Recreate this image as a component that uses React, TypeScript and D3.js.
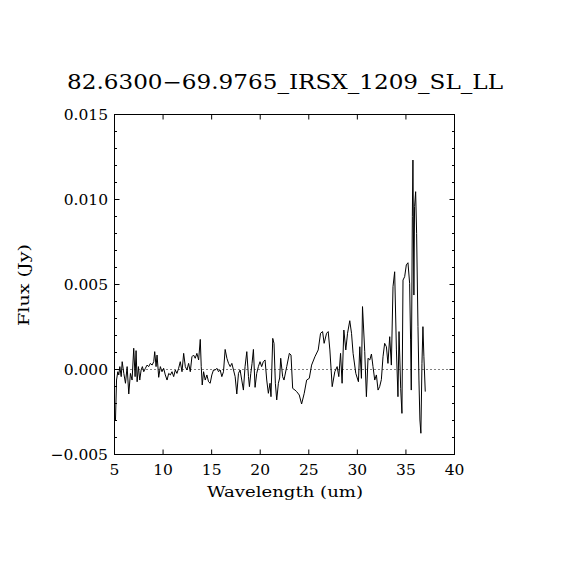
import React from "react";
import * as d3 from "d3";

const title = "82.6300\u221269.9765_IRSX_1209_SL_LL";
const xLabel = "Wavelength (um)";
const yLabel = "Flux (Jy)";
const xTicks = [5, 10, 15, 20, 25, 30, 35, 40];
const yTicks = [-0.005, 0, 0.005, 0.01, 0.015];
const yTickLabels = ["\u22120.005", "0.000", "0.005", "0.010", "0.015"];

const wavelength = [
  5.10, 5.21, 5.34, 5.44, 5.55, 5.69, 5.79, 5.96, 6.13, 6.30, 6.47, 6.64, 6.81, 6.98, 7.12, 7.22, 7.33, 7.46, 7.60, 7.74,
  7.87, 8.01, 8.18, 8.35, 8.52, 8.69, 8.87, 9.04, 9.14, 9.28, 9.38, 9.55, 9.72, 9.89, 10.06, 10.23, 10.41, 10.58, 10.75, 10.92,
  11.09, 11.26, 11.43, 11.60, 11.77, 11.95, 12.12, 12.29, 12.46, 12.63, 12.80, 12.97, 13.14, 13.31, 13.48, 13.66, 13.83, 13.93, 14.03, 14.17,
  14.34, 14.51, 14.68, 14.85, 15.02, 15.19, 15.37, 15.54, 15.71, 15.88, 16.05, 16.22, 16.39, 16.57, 16.74, 16.91, 17.08, 17.25, 17.42, 17.59,
  17.76, 17.93, 18.10, 18.27, 18.44, 18.62, 18.79, 18.89, 19.03, 19.16, 19.30, 19.47, 19.64, 19.81, 19.98, 20.15, 20.32, 20.50, 20.67, 20.84,
  21.01, 21.11, 21.29, 21.42, 21.56, 21.70, 21.87, 22.00, 22.11, 22.31, 22.45, 22.73, 23.00, 23.17, 23.34, 23.58, 23.75, 24.02, 24.26, 24.53,
  24.78, 25.05, 25.29, 25.63, 25.97, 26.21, 26.42, 26.58, 26.83, 27.00, 27.17, 27.41, 27.68, 27.92, 28.09, 28.27, 28.43, 28.61, 28.81, 28.99,
  29.22, 29.40, 29.56, 29.84, 30.11, 30.25, 30.42, 30.53, 30.76, 30.93, 31.10, 31.28, 31.45, 31.61, 31.79, 31.96, 32.13, 32.30, 32.47, 32.64,
  32.81, 32.99, 33.15, 33.33, 33.50, 33.67, 33.84, 34.02, 34.18, 34.29, 34.46, 34.59, 34.70, 34.87, 35.04, 35.21, 35.38, 35.48, 35.55, 35.66,
  35.72, 35.82, 35.89, 36.00, 36.10, 36.24, 36.34, 36.44, 36.54, 36.65, 36.75, 36.85, 36.99,
];

const flux = [
  -0.00297, -0.00062, -0.00013, -0.00032, 0.00017, -0.00042, 0.00046, -0.00023, -0.00081, 0.00017, -0.00144, -0.00023, -0.00062, 0.00125, -0.00042, 0.00111, -0.00072, 0.00017, -0.00062, -0.00003,
  0.00017, -0.00013, 0.00007, 0.00026, 0.00017, 0.00036, 0.00026, 0.00046, 0.00105, 0.00017, 0.00085, -0.00046, 0.00017, -0.00013, 0.00007, -0.00032, -0.00062, -0.00023, -0.00032, -0.00013,
  -0.00042, -0.00003, -0.00023, 0.00007, 0.00046, -0.00013, 0.00095, 0.00017, -0.00003, 0.00036, -0.00013, 0.00075, 0.00085, 0.00066, 0.00095, 0.00056, 0.00177, 0.00017, -0.00091, -0.00013,
  -0.00062, -0.00032, -0.00072, -0.00081, -0.00032, -0.00003, -0.00003, 0.00007, -0.00013, -0.00003, -0.00042, -0.00013, 0.00118, 0.00066, 0.00036, 0.00017, 0.00036, -0.00003, -0.00042, -0.00144,
  -0.00023, -0.00003, -0.00062, -0.00121, 0.00017, 0.00105, -0.00042, -0.00101, -0.00023, 0.00036, 0.00118, -0.00105, -0.00023, 0.00017, 0.00046, 0.00017, 0.00046, 0.00056, -0.00062, -0.00140,
  -0.00081, -0.00160, 0.00183, 0.00154, -0.00081, -0.00179, -0.00081, -0.00050, 0.00066, -0.00042, -0.00062, 0.00017, 0.00095, 0.00085, -0.00111, -0.00121, -0.00130, -0.00150, -0.00203, -0.00140,
  -0.00062, -0.00052, 0.00026, 0.00075, 0.00115, 0.00213, 0.00223, 0.00154, 0.00213, 0.00223, 0.00115, -0.00101, -0.00013, 0.00017, -0.00042, 0.00095, -0.00081, 0.00232, 0.00115, 0.00213,
  0.00287, 0.00213, 0.00095, -0.00023, -0.00072, 0.00134, -0.00052, 0.00370, 0.00105, -0.00160, 0.00066, 0.00056, 0.00091, 0.00017, -0.00062, -0.00032, -0.00121, -0.00100, -0.00060, 0.00075,
  0.00154, 0.00134, 0.00036, 0.00193, 0.00026, 0.00487, 0.00575, 0.00115, -0.00160, 0.00223, -0.00111, -0.00258, 0.00526, 0.00546, 0.00615, 0.00628, 0.00507, 0.00174, -0.00121, 0.00899,
  0.01232, 0.00438, 0.00958, 0.01046, 0.00801, 0.00252, -0.00062, -0.00297, -0.00375, 0.00036, 0.00252, 0.00075, -0.00130,
];

const W = 570;
const H = 570;
const left = 114.5;
const right = 454.5;
const top = 114.5;
const bottom = 454.5;
const FONT = "'DejaVu Serif', 'Liberation Serif', serif";

export default function App() {
  const x = d3.scaleLinear().domain([5, 40]).range([left, right]);
  const y = d3.scaleLinear().domain([-0.005, 0.015]).range([bottom, top]);
  const pts: [number, number][] = wavelength.map((w, i) => [w, flux[i]]);
  const line = d3
    .line<[number, number]>()
    .x((d) => x(d[0]))
    .y((d) => y(d[1]));
  const minorY = d3.range(-0.005, 0.0151, 0.001).map((v) => Math.round(v * 1e4) / 1e4);

  return (
    <svg
      width={W}
      height={H}
      style={{ position: "absolute", left: 0, top: 0, background: "#fff" }}
      fontFamily={FONT}
    >
      <rect x={0} y={0} width={W} height={H} fill="#fff" />
      <text x={285} y={89} fontSize={20} textAnchor="middle" textLength={436} lengthAdjust="spacingAndGlyphs">
        {title}
      </text>
      {/* zero line */}
      <line x1={left} x2={right} y1={y(0)} y2={y(0)} stroke="#000" strokeWidth={1} strokeDasharray="1,3" />
      {/* data */}
      <path d={line(pts) || ""} fill="none" stroke="#000" strokeWidth={1} strokeLinejoin="miter" />
      {/* frame */}
      <rect x={left} y={top} width={right - left} height={bottom - top} fill="none" stroke="#000" strokeWidth={1} />
      {/* x ticks */}
      {xTicks.map((t) => (
        <g key={"xt" + t}>
          <line x1={x(t)} x2={x(t)} y1={bottom} y2={bottom - 5} stroke="#000" />
          <line x1={x(t)} x2={x(t)} y1={top} y2={top + 5} stroke="#000" />
          <text x={x(t)} y={475} fontSize={15.5} textAnchor="middle">
            {t}
          </text>
        </g>
      ))}
      {/* y minor ticks */}
      {minorY.map((t) => (
        <g key={"ym" + t}>
          <line x1={left} x2={left + 2.5} y1={y(t)} y2={y(t)} stroke="#000" />
          <line x1={right} x2={right - 2.5} y1={y(t)} y2={y(t)} stroke="#000" />
        </g>
      ))}
      {/* y major ticks */}
      {yTicks.map((t, i) => (
        <g key={"yt" + t}>
          <line x1={left} x2={left + 5} y1={y(t)} y2={y(t)} stroke="#000" />
          <line x1={right} x2={right - 5} y1={y(t)} y2={y(t)} stroke="#000" />
          <text x={108} y={y(t) + 5.8} fontSize={15.5} textAnchor="end">
            {yTickLabels[i]}
          </text>
        </g>
      ))}
      <text x={285} y={497} fontSize={15.5} textAnchor="middle" textLength={156} lengthAdjust="spacingAndGlyphs">
        {xLabel}
      </text>
      <text
        x={0}
        y={0}
        transform={`translate(28.5,285) rotate(-90)`}
        fontSize={15.5}
        textAnchor="middle"
        textLength={82}
        lengthAdjust="spacingAndGlyphs"
      >
        {yLabel}
      </text>
    </svg>
  );
}
